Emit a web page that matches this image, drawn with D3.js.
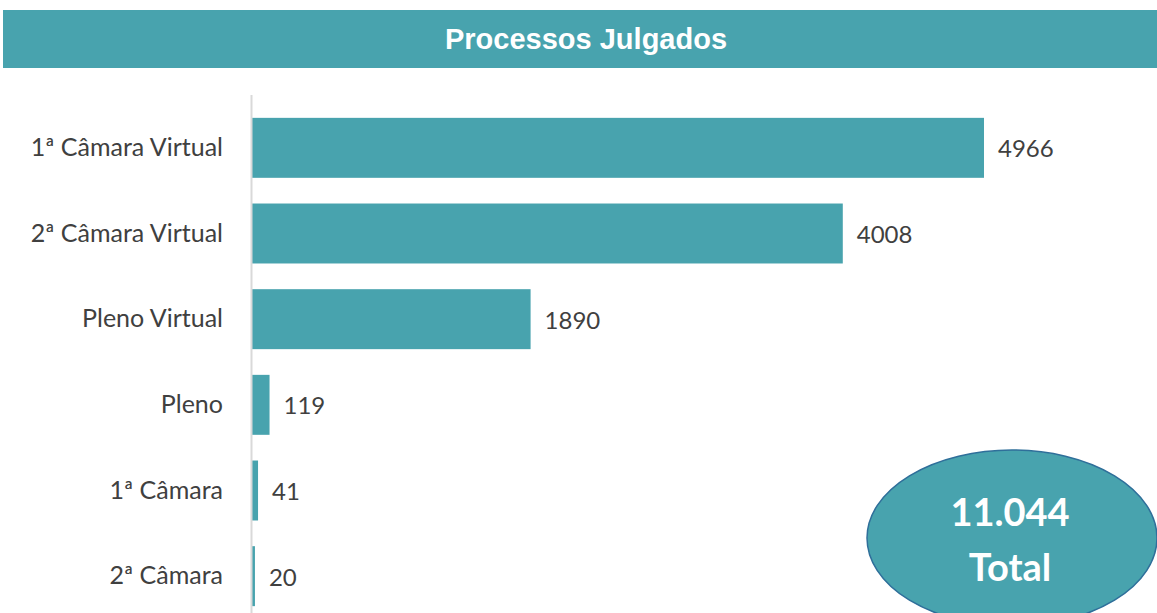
<!DOCTYPE html>
<html>
<head>
<meta charset="utf-8">
<script src="https://cdn.jsdelivr.net/npm/d3@7"></script>
<style>
  body { margin: 0; background: #fff; }
  svg { display: block; }
</style>
</head>
<body>
<script>
var categories = ['1ª Câmara Virtual', '2ª Câmara Virtual', 'Pleno Virtual', 'Pleno', '1ª Câmara', '2ª Câmara'];
var values = [4966, 4008, 1890, 119, 41, 20];
var title = 'Processos Julgados';
var totalLabel = ['11.044', 'Total'];

var W = 1157, H = 613;
var teal = '#48a3ae';
var margin = {left: 252, top: 105};

var svg = d3.select('body').append('svg')
  .attr('width', W)
  .attr('height', H);

// header band
svg.append('rect')
  .attr('x', 3).attr('y', 10)
  .attr('width', W - 3).attr('height', 58)
  .attr('fill', teal);

svg.append('text')
  .attr('x', 586).attr('y', 39)
  .attr('text-anchor', 'middle')
  .attr('dominant-baseline', 'central')
  .attr('font-family', 'Liberation Sans, Arial, sans-serif')
  .attr('font-weight', 'bold')
  .attr('font-size', 29)
  .attr('fill', '#fff')
  .text(title);

var data = categories.map(function(c, i) { return {name: c, value: values[i]}; });

var xScale = d3.scaleLinear()
  .domain([0, 4966])
  .range([0, 732]);

var yScale = d3.scaleBand()
  .domain(categories)
  .range([0, 514])
  .paddingInner(0.3)
  .paddingOuter(0.15);

var g = svg.append('g')
  .attr('transform', 'translate(' + margin.left + ',' + margin.top + ')');

g.selectAll('.bar')
  .data(data)
  .enter()
  .append('rect')
  .attr('class', 'bar')
  .attr('x', 0)
  .attr('y', function(d) { return yScale(d.name); })
  .attr('width', function(d) { return xScale(d.value); })
  .attr('height', yScale.bandwidth())
  .attr('fill', teal);

// axis line + category labels
var yAxis = g.append('g')
  .call(d3.axisLeft(yScale).tickSize(0).tickPadding(29));
yAxis.select('.domain')
  .attr('stroke', '#d9d9d9')
  .attr('stroke-width', 2)
  .attr('d', 'M-0.5,-10V' + (H - margin.top));
yAxis.selectAll('text')
  .attr('font-family', 'Lato, sans-serif')
  .attr('font-size', 25)
  .attr('fill', '#404040');

// value labels
g.selectAll('.val')
  .data(data)
  .enter()
  .append('text')
  .attr('class', 'val')
  .attr('x', function(d) { return xScale(d.value) + 14; })
  .attr('y', function(d) { return yScale(d.name) + yScale.bandwidth() / 2; })
  .attr('dominant-baseline', 'central')
  .attr('font-family', 'Lato, sans-serif')
  .attr('font-size', 24)
  .attr('fill', '#404040')
  .text(function(d) { return d.value; });

// total bubble
svg.append('ellipse')
  .attr('cx', 1012).attr('cy', 538)
  .attr('rx', 145).attr('ry', 88)
  .attr('fill', teal)
  .attr('stroke', '#2f6f9a')
  .attr('stroke-width', 1.5);

svg.selectAll('.tot')
  .data(totalLabel)
  .enter()
  .append('text')
  .attr('class', 'tot')
  .attr('x', 1010)
  .attr('y', function(d, i) { return 511 + i * 55; })
  .attr('text-anchor', 'middle')
  .attr('dominant-baseline', 'central')
  .attr('font-family', 'Lato, sans-serif')
  .attr('font-weight', 'bold')
  .attr('font-size', 38)
  .attr('fill', '#fff')
  .text(function(d) { return d; });
</script>
</body>
</html>
